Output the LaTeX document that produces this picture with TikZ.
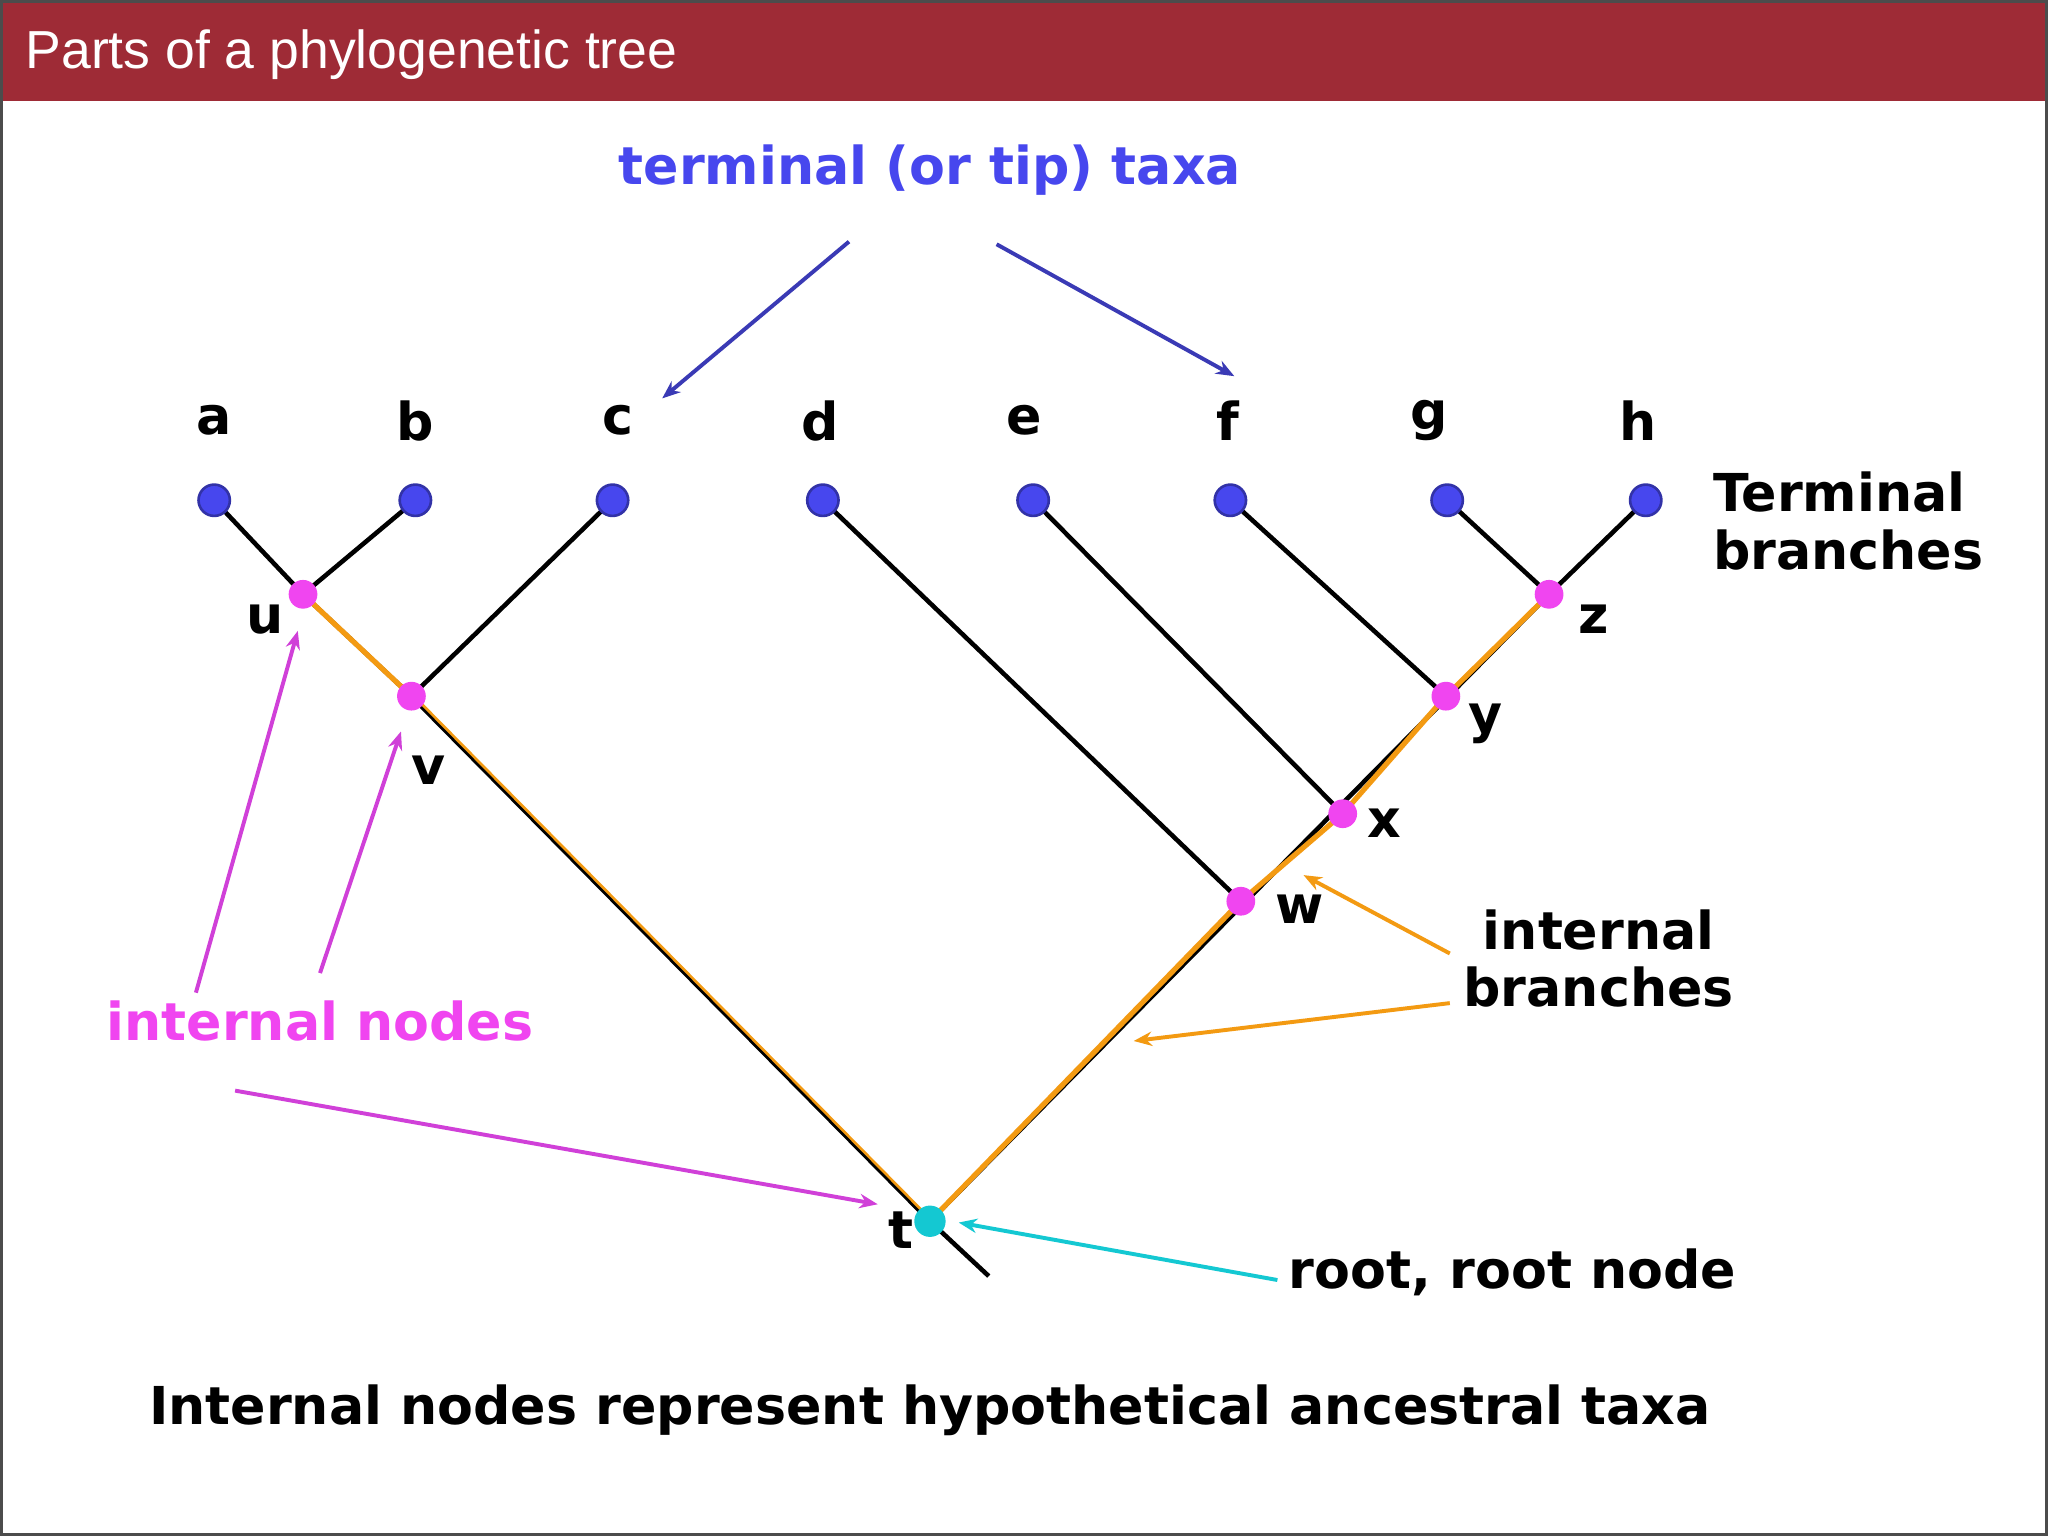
\documentclass[tikz,border=0pt]{standalone}
\usepackage{fontspec}
\setmainfont{DejaVu Sans}
\newfontfamily\titlefont{Liberation Sans}
\usetikzlibrary{arrows.meta}
\definecolor{bar}{HTML}{9E2B36}
\definecolor{tipblue}{HTML}{4747EE}
\definecolor{arrblue}{HTML}{3A3AB5}
\definecolor{mag}{HTML}{F045F0}
\definecolor{magarr}{HTML}{D040D8}
\definecolor{org}{HTML}{F39A12}
\definecolor{cyn}{HTML}{14C8D2}
\begin{document}
\begin{tikzpicture}[x=1pt,y=-1pt,
  lab/.style={font=\fontsize{40}{44}\selectfont\bfseries},
  tip/.style={circle,fill=tipblue,draw=tipblue!70!black,line width=2pt,minimum size=24pt,inner sep=0},
  inn/.style={circle,fill=mag,minimum size=22pt,inner sep=0},
  br/.style={line width=3.5pt,black},
  ob/.style={line width=4pt,org},
  arr/.style={line width=3pt,-{Stealth[length=14pt,width=11pt]}}]
\useasboundingbox (0,0) rectangle (1568,1176);
\fill[white] (0,0) rectangle (1568,1176);
\fill[bar] (0,0) rectangle (1568,77);
\draw[line width=2pt,black!70] (1,1) rectangle (1567,1175);
\node[anchor=west,text=white,font=\titlefont\fontsize{41}{45}\selectfont] (title) at (16,42) {Parts of a phylogenetic tree};
% coordinates
\coordinate (pa) at (164,383); \coordinate (pb) at (318,383); \coordinate (pc) at (469,383);
\coordinate (pd) at (630,383); \coordinate (pe) at (791,383); \coordinate (pf) at (942,383);
\coordinate (pg) at (1108,383); \coordinate (ph) at (1260,383);
\coordinate (pu) at (232,455); \coordinate (pv) at (315,533); \coordinate (pt) at (712,935);
\coordinate (pw) at (950,690); \coordinate (px) at (1028,623); \coordinate (py) at (1107,533);
\coordinate (pz) at (1186,455); \coordinate (rootend) at (757,977);
% branches
\draw[br] (pa)--(pu) (pb)--(pu) (pc)--(pv) (pd)--(pw) (pe)--(px) (pf)--(py) (pg)--(pz) (ph)--(pz);
\draw[br] (pu)--(pv)--(pt)--(rootend) (pt)--(pz);
\draw[ob] (pu)--(pv);
\draw[line width=2pt,org] ([xshift=2pt]pv)--([xshift=2pt]pt);
\draw[ob] (pt)--(pw)--(px)--(py)--(pz);
% nodes
\foreach \n in {a,b,c,d,e,f,g,h}{\node[tip] (\n) at (p\n) {};}
\foreach \n in {u,v,w,x,y,z}{\node[inn] (\n) at (p\n) {};}
\node[circle,fill=cyn,minimum size=24pt,inner sep=0] (t) at (pt) {};
% labels
\foreach \n/\xx in {a/164,b/318,c/473,d/628,e/784,f/940,g/1094,h/1254}{\node[lab] (l\n) at (\xx,322) {\n};}
\node[lab] (lu) at (203,474) {u};
\node[lab] (lv) at (328,590) {v};
\node[lab] (lt) at (690,942) {t};
\node[lab] (lw) at (995,696) {w};
\node[lab] (lx) at (1060,630) {x};
\node[lab] (ly) at (1137,554) {y};
\node[lab] (lz) at (1220,474) {z};
% annotations
\node[lab,text=tipblue] (tt) at (712,130) {terminal (or tip) taxa};
\coordinate (t1) at (650,185); \coordinate (t1e) at (507,305);
\coordinate (t2) at (763,187); \coordinate (t2e) at (945,288);
\draw[arr,arrblue] (t1)--(t1e);
\draw[arr,arrblue] (t2)--(t2e);
\node[lab,align=left,anchor=west] (tb) at (1308,399) {Terminal\\branches};
\node[lab,align=center] (ib) at (1224,734) {internal\\branches};
\coordinate (o1) at (1110,730); \coordinate (o1e) at (998,670);
\coordinate (o2) at (1110,768); \coordinate (o2e) at (868,797);
\draw[arr,org] (o1)--(o1e);
\draw[arr,org] (o2)--(o2e);
\node[lab,text=mag] (in) at (245,782) {internal nodes};
\coordinate (m1) at (150,760); \coordinate (m1e) at (228,483);
\coordinate (m2) at (245,745); \coordinate (m2e) at (307,560);
\coordinate (m3) at (180,835); \coordinate (m3e) at (672,922);
\draw[arr,magarr] (m1)--(m1e);
\draw[arr,magarr] (m2)--(m2e);
\draw[arr,magarr] (m3)--(m3e);
\node[lab] (rn) at (1158,974) {root, root node};
\coordinate (c1) at (978,980); \coordinate (c1e) at (734,936);
\draw[arr,cyn] (c1)--(c1e);
\node[lab] (bot) at (712,1080) {Internal nodes represent hypothetical ancestral taxa};
\end{tikzpicture}
\end{document}
